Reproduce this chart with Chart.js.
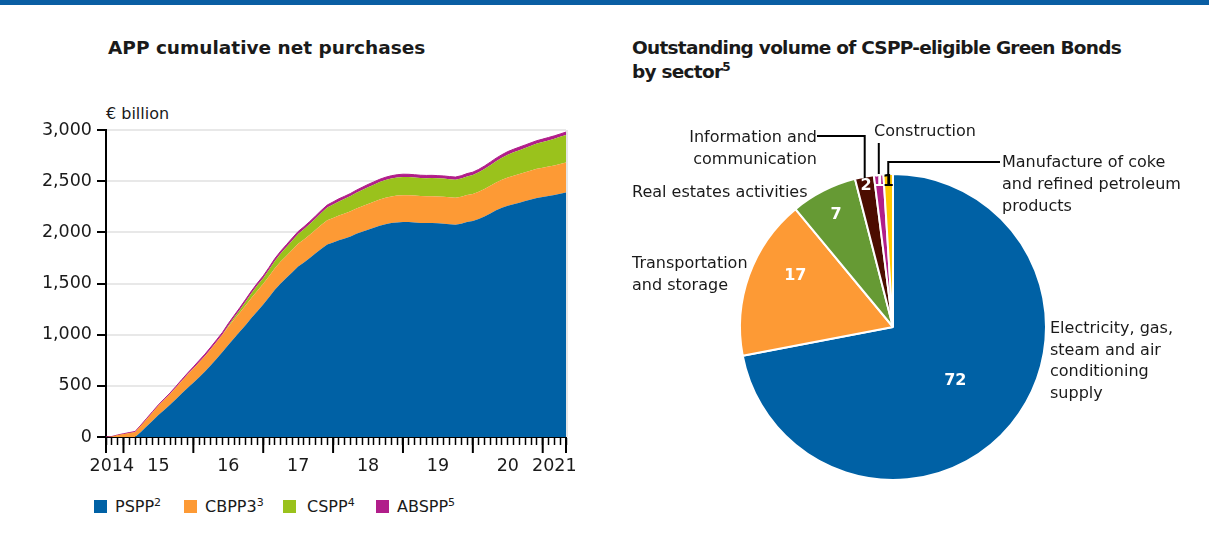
<!DOCTYPE html>
<html>
<head>
<meta charset="utf-8">
<script src="https://cdn.jsdelivr.net/npm/chart.js@4.4.1/dist/chart.umd.min.js"></script>
<style>
  body { margin:0; width:1209px; height:546px; background:#fff; position:relative; overflow:hidden;
         font-family:'DejaVu Sans', sans-serif; color:#1a1a1a; }
  .topbar { position:absolute; left:0; top:0; width:1209px; height:5px; background:#0a5ea3; }
  .title { position:absolute; font-weight:bold; font-size:18.5px; line-height:24px; white-space:nowrap; }
  .lbl { position:absolute; font-size:16px; line-height:22px; white-space:nowrap; }
  .lbl sup, .leg sup { font-size:11px; vertical-align:6px; line-height:0; }
  .leg { position:absolute; top:496px; font-size:16px; line-height:22px; white-space:nowrap; }
  .sq { position:absolute; top:500px; width:13px; height:13px; }
  #area { position:absolute; left:0; top:100px; }
  #pie { position:absolute; left:620px; top:110px; }
</style>
</head>
<body>
<div class="topbar"></div>

<div class="title" style="left:108px;top:36px;">APP cumulative net purchases</div>
<div class="lbl" style="left:106px;top:103px;">€ billion</div>
<canvas id="area" width="580" height="380"></canvas>

<div class="sq" style="left:94px;background:#0061a5;"></div>
<div class="leg" style="left:115px;">PSPP<sup>2</sup></div>
<div class="sq" style="left:184px;background:#fd9a35;"></div>
<div class="leg" style="left:205px;">CBPP3<sup>3</sup></div>
<div class="sq" style="left:283px;background:#9ac21c;"></div>
<div class="leg" style="left:307px;">CSPP<sup>4</sup></div>
<div class="sq" style="left:376px;background:#b11e8a;"></div>
<div class="leg" style="left:397px;">ABSPP<sup>5</sup></div>

<div class="title" style="left:632px;top:36px;letter-spacing:-0.74px;">Outstanding volume of CSPP-eligible Green Bonds<br>by sector<sup style="font-size:12px;vertical-align:7px;line-height:0;font-weight:bold;">5</sup></div>
<canvas id="pie" width="589" height="430"></canvas>

<div class="lbl" style="right:392px;top:126px;text-align:right;">Information and<br>communication</div>
<div class="lbl" style="left:874px;top:120px;">Construction</div>
<div class="lbl" style="left:1002px;top:151px;">Manufacture of coke<br>and refined petroleum<br>products</div>
<div class="lbl" style="left:632px;top:181px;">Real estates activities</div>
<div class="lbl" style="left:632px;top:252px;">Transportation<br>and storage</div>
<div class="lbl" style="left:1050px;top:317px;line-height:21.5px;">Electricity, gas,<br>steam and air<br>conditioning<br>supply</div>

<script>
// month starts, Oct 2014 .. May 2021 (value at each = stock at end of previous month)
const months = [];
for (let y = 2014, m = 10; months.length < 80; m++) {
  if (m > 12) { m = 1; y++; }
  months.push(y + '-' + String(m).padStart(2, '0'));
}

const pspp = [0,0,0,0,0,0,50,105,160,215,265,315,370,425,480,530,585,640,700,765,
  830,900,965,1030,1095,1165,1230,1295,1365,1440,1500,1555,1610,1665,1705,1750,1795,1840,1880,1900,
  1922,1940,1960,1985,2005,2025,2045,2065,2080,2090,2097,2100,2100,2097,2092,2090,2090,2088,2085,2080,
  2075,2085,2100,2110,2130,2155,2185,2215,2240,2260,2275,2290,2305,2320,2335,2345,2355,2365,2378,2390];
const cbpp3 = [0,5,20,30,40,50,62,72,82,92,100,106,113,122,130,140,146,152,160,166,
  172,178,182,186,192,196,200,203,207,210,214,217,221,224,226,227,230,234,238,241,
  243,245,247,249,251,253,255,257,259,261,262,262,262,262,262,262,262,262,262,262,
  262,263,264,265,266,268,270,272,274,277,279,281,283,284,286,287,288,289,290,292];
const cspp = [0,0,0,0,0,0,0,0,0,0,0,0,0,0,0,0,0,0,0,0,
  0,10,20,28,38,45,52,53,62,70,78,84,90,95,100,104,110,117,124,131,
  137,142,147,152,157,163,166,169,172,175,177,178,178,177,177,177,178,178,178,177,
  177,178,182,185,190,196,201,208,215,222,228,232,236,241,246,250,255,260,265,270];
const abspp = [0,0,0,2,3,4,5,6,7,7,8,9,11,13,14,15,17,18,19,19,
  20,20,20,21,21,22,22,23,23,24,24,24,24,24,24,25,25,25,25,25,
  26,26,26,26,27,27,27,27,27,27,27,28,27,27,27,27,27,26,26,26,
  26,27,28,28,29,29,30,30,30,30,30,30,30,30,29,29,29,29,28,28];
const yTicks = [0, 500, 1000, 1500, 2000, 2500, 3000];

const sectors = ['Electricity, gas, steam and air conditioning supply', 'Transportation and storage',
  'Real estates activities', 'Information and communication', 'Construction',
  'Manufacture of coke and refined petroleum products'];
const shares = [72, 17, 7, 2, 1, 1];

const yearTicks = {
  id: 'yearTicks',
  afterDraw(chart) {
    const { ctx, chartArea: a, scales: { x } } = chart;
    ctx.save();
    ctx.strokeStyle = '#e6e6e6'; ctx.lineWidth = 2;
    ctx.beginPath(); ctx.moveTo(a.right + 1, a.top); ctx.lineTo(a.right + 1, a.bottom); ctx.stroke();
    ctx.strokeStyle = '#000'; ctx.lineWidth = 2;
    months.forEach((m, i) => {
      if (i === 0 || i === months.length - 1 || m.endsWith('-01')) {
        const px = x.getPixelForValue(i);
        ctx.beginPath(); ctx.moveTo(px, a.bottom); ctx.lineTo(px, a.bottom + 16); ctx.stroke();
      }
    });
    ctx.restore();
  }
};

const font = { family: 'DejaVu Sans', size: 17.5 };

new Chart(document.getElementById('area'), {
  type: 'line',
  data: {
    labels: months,
    datasets: [
      { label: 'PSPP', data: pspp, backgroundColor: '#0061a5', borderWidth: 0, fill: 'origin' },
      { label: 'CBPP3', data: cbpp3, backgroundColor: '#fd9a35', borderWidth: 0, fill: '-1' },
      { label: 'CSPP', data: cspp, backgroundColor: '#9ac21c', borderWidth: 0, fill: '-1' },
      { label: 'ABSPP', data: abspp, backgroundColor: '#b11e8a', borderColor: '#b11e8a', borderWidth: 1, fill: '-1' },
    ]
  },
  options: {
    responsive: false, animation: false,
    layout: { padding: { top: 30, right: 14 } },
    elements: { point: { radius: 0 }, line: { tension: 0 } },
    plugins: { legend: { display: false }, tooltip: { enabled: false } },
    scales: {
      x: {
        offset: false,
        afterFit: s => { s.height = 43; },
        grid: { drawOnChartArea: false, tickLength: 8, tickColor: '#000', tickWidth: 1.5 },
        border: { color: '#000', width: 2 },
        ticks: {
          autoSkip: false, maxRotation: 0, minRotation: 0, padding: 11, color: '#1a1a1a', font,
          callback: (v, i) => {
            if (i === 1) return '2014';
            if (i === 77) return '2021';
            return months[i].endsWith('-07') ? months[i].slice(2, 4) : '';
          }
        }
      },
      y: {
        stacked: true, min: 0, max: 3000,
        afterFit: s => { s.width = 106; },
        afterBuildTicks: s => { s.ticks = yTicks.map(v => ({ value: v })); },
        grid: { color: '#e8e8e8', lineWidth: 2, tickLength: 9, tickColor: '#000', tickWidth: 2 },
        border: { color: '#000', width: 2 },
        ticks: { padding: 5, color: '#1a1a1a', font, callback: v => v.toLocaleString('en-US') }
      }
    }
  },
  plugins: [yearTicks]
});

// pie: value labels inside slices and leader lines to outside labels
const valueRadius = [0.54, 0.72, 0.82, 0.94, 0.95, 0.95];
const valueShift = [1.5, 7.7, 0, 0, 0, 0];
const valueColors = ['#fff', '#fff', '#fff', '#fff', '#fff', '#000'];
const leaders = [{ i: 3, y: 26, x: 197 }, { i: 4, y: 33 }, { i: 5, y: 52, x: 380 }];

const pieNotes = {
  id: 'pieNotes',
  afterDraw(chart) {
    const { ctx } = chart;
    const arcs = chart.getDatasetMeta(0).data;
    ctx.save();
    ctx.strokeStyle = '#000'; ctx.lineWidth = 2;
    leaders.forEach(l => {
      const arc = arcs[l.i];
      const mid = (arc.startAngle + arc.endAngle) / 2;
      const ex = arc.x + Math.cos(mid) * (arc.outerRadius - 2);
      const ey = arc.y + Math.sin(mid) * (arc.outerRadius - 2);
      ctx.beginPath(); ctx.moveTo(ex, ey); ctx.lineTo(ex, l.y);
      if (l.x !== undefined) ctx.lineTo(l.x, l.y);
      ctx.stroke();
    });
    ctx.font = 'bold 16px "DejaVu Sans"';
    ctx.textAlign = 'center'; ctx.textBaseline = 'middle';
    arcs.forEach((arc, i) => {
      const mid = (arc.startAngle + arc.endAngle) / 2 + valueShift[i] * Math.PI / 180;
      const r = arc.outerRadius * valueRadius[i];
      ctx.fillStyle = valueColors[i];
      ctx.fillText(String(shares[i]), arc.x + Math.cos(mid) * r, arc.y + Math.sin(mid) * r);
    });
    ctx.restore();
  }
};

new Chart(document.getElementById('pie'), {
  type: 'pie',
  data: {
    labels: sectors,
    datasets: [{
      data: shares,
      backgroundColor: ['#0061a5', '#fd9a35', '#669a34', '#4c0c00', '#b11e8a', '#ffc800'],
      borderColor: '#fff', borderWidth: 2, radius: 153
    }]
  },
  options: {
    responsive: false, animation: false, radius: 153,
    layout: { padding: { left: 100, right: 143, top: 60, bottom: 56 } },
    plugins: { legend: { display: false }, tooltip: { enabled: false } }
  },
  plugins: [pieNotes]
});
</script>
</body>
</html>
